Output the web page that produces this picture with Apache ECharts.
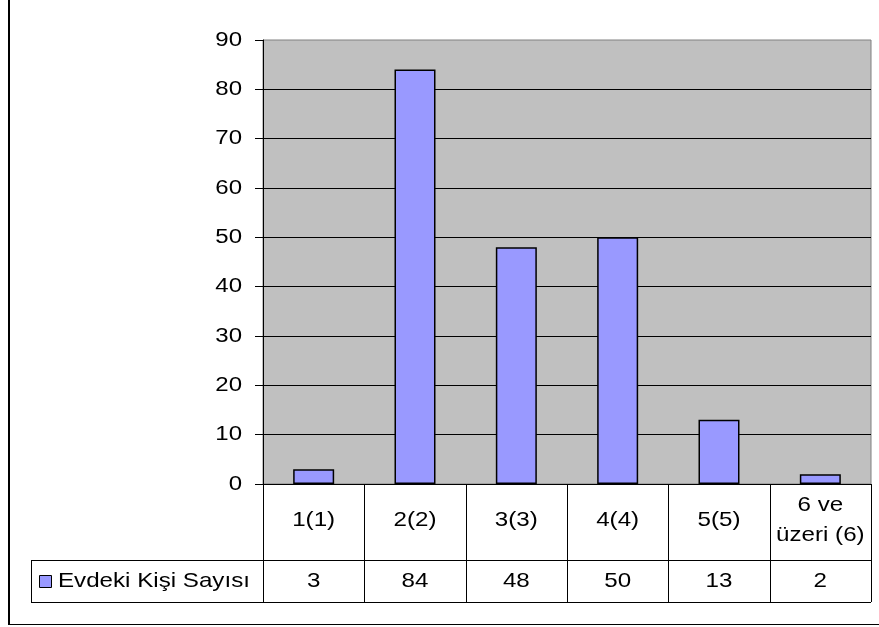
<!DOCTYPE html>
<html>
<head>
<meta charset="utf-8">
<script src="https://cdn.jsdelivr.net/npm/echarts@6/dist/echarts.min.js"></script>
<style>
  html, body { margin: 0; padding: 0; background: #fff; }
  #chart { width: 879px; height: 627px; }
</style>
</head>
<body>
<div id="chart"></div>
<script>
// Household size categories and respondent counts
const categories = ['1(1)', '2(2)', '3(3)', '4(4)', '5(5)', '6 ve\nüzeri (6)'];
const seriesName = 'Evdeki Kişi Sayısı';
const values = [3, 84, 48, 50, 13, 2];
const yTicks = [0, 10, 20, 30, 40, 50, 60, 70, 80, 90];
const yMin = 0, yMax = 90, yStep = 10;

const FONT = '"Liberation Sans", Arial, sans-serif';
const AXIS_FS = 20, AXIS_SX = 1.2;    // value-axis labels (wide type)
const TAB_FS = 21, TAB_SX = 1.15;     // data-table text
const BAR = '#9999FF';

const chart = echarts.init(document.getElementById('chart'), null, { renderer: 'canvas' });

chart.setOption({
  animation: false,
  backgroundColor: '#ffffff',
  textStyle: { fontFamily: FONT },
  grid: {
    left: 263, right: 8, top: 40, bottom: 143,
    show: true, backgroundColor: '#C0C0C0', borderColor: '#808080', borderWidth: 1
  },
  xAxis: {
    type: 'category',
    data: categories,
    axisLine: { lineStyle: { color: '#000', width: 1 } },
    axisTick: { show: false },
    axisLabel: { show: false },
    splitLine: { show: false }
  },
  yAxis: {
    type: 'value',
    min: yMin, max: yMax, interval: yStep,
    axisLine: { show: true, lineStyle: { color: '#000', width: 1 } },
    axisTick: { show: true, length: 8, lineStyle: { color: '#000' } },
    axisLabel: { show: false },
    splitLine: { show: true, showMaxLine: false, lineStyle: { color: '#000', width: 1 } }
  },
  series: [{
    name: seriesName,
    type: 'bar',
    data: values,
    barWidth: 41,
    itemStyle: { color: BAR, borderColor: '#000', borderWidth: 1.5 }
  }]
});

// Axis labels and the data table under the plot
function buildTable() {
  const x0 = chart.convertToPixel({ xAxisIndex: 0 }, 0);
  const x1 = chart.convertToPixel({ xAxisIndex: 0 }, 1);
  const step = x1 - x0;
  const axisY = chart.convertToPixel({ yAxisIndex: 0 }, 0);
  const axisX = x0 - step / 2;
  const rowMid = axisY + 76;       // line between category row and value row
  const rowEnd = rowMid + 42;      // bottom of value row
  const tableLeft = 31;
  const right = axisX + step * categories.length;
  const g = [];
  const line = (xa, ya, xb, yb, w) => g.push({
    type: 'line', silent: true,
    shape: { x1: xa, y1: ya, x2: xb, y2: yb },
    style: { stroke: '#000', lineWidth: w || 1 }
  });
  const text = (str, x, y, fs, sx, align, lh) => g.push({
    type: 'text', silent: true, x: x, y: y, scaleX: sx,
    style: {
      text: str, fill: '#000', font: fs + 'px ' + FONT,
      align: align, verticalAlign: 'middle', lineHeight: lh
    }
  });

  // value-axis tick labels
  yTicks.forEach(t => {
    text(String(t), axisX - 21, chart.convertToPixel({ yAxisIndex: 0 }, t), AXIS_FS, AXIS_SX, 'right');
  });

  // table grid
  for (let i = 0; i <= categories.length; i++) {
    const x = Math.round(axisX + step * i) + 0.5;
    line(x, axisY, x, rowEnd);
  }
  line(tableLeft + 0.5, rowMid, tableLeft + 0.5, rowEnd);
  line(tableLeft, Math.round(rowMid) + 0.5, right, Math.round(rowMid) + 0.5);
  line(tableLeft, Math.round(rowEnd) + 0.5, right, Math.round(rowEnd) + 0.5);

  // category row and value row
  categories.forEach((c, i) => {
    text(c, chart.convertToPixel({ xAxisIndex: 0 }, i), (axisY + rowMid) / 2 - 2, TAB_FS, TAB_SX, 'center', 30);
  });
  values.forEach((v, i) => {
    text(String(v), chart.convertToPixel({ xAxisIndex: 0 }, i), (rowMid + rowEnd) / 2, TAB_FS, TAB_SX, 'center');
  });

  // legend key
  const midY = (rowMid + rowEnd) / 2;
  g.push({
    type: 'rect', silent: true,
    shape: { x: 39.5, y: Math.round(midY - 6) + 0.5, width: 12, height: 12 },
    style: { fill: BAR, stroke: '#000', lineWidth: 1 }
  });
  text(seriesName, 58, midY, TAB_FS, TAB_SX, 'left');

  // outer frame (left and bottom edges)
  line(9, 0, 9, 625, 2);
  line(9, 624.5, 879, 624.5, 1);

  chart.setOption({ graphic: g });
}
buildTable();
</script>
</body>
</html>
